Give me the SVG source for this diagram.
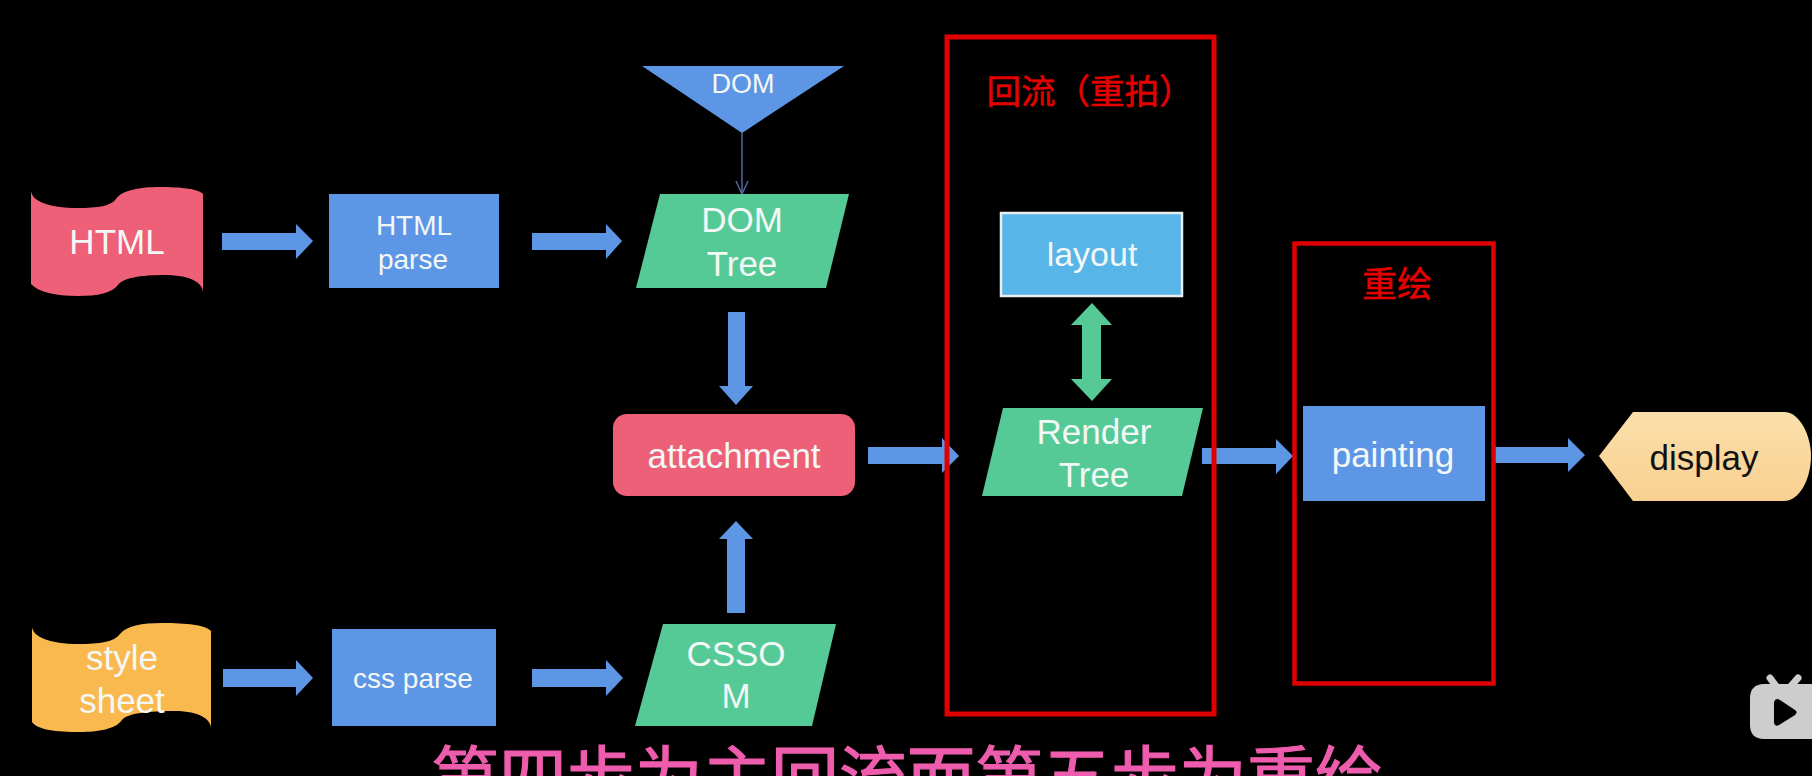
<svg xmlns="http://www.w3.org/2000/svg" width="1812" height="776" viewBox="0 0 1812 776">
<style>
text{font-family:"Liberation Sans",Arial,sans-serif;text-anchor:middle;fill:#f3f8f6;font-size:35px}
.cjk{font-family:"Noto Sans CJK SC",sans-serif}
.blue{fill:#5e96e6}
.green{fill:#56ca96}
.pink{fill:#ee6078}
.arrow{fill:#5e96e6}
.box{fill:none;stroke:#e00000}
.sm{font-size:28px}
</style>
<defs>
<linearGradient id="disp" x1="0" y1="0" x2="0" y2="1"><stop offset="0" stop-color="#fadfab"/><stop offset="1" stop-color="#f9d090"/></linearGradient>
<marker id="open" markerWidth="18" markerHeight="14" refX="14" refY="7" orient="auto" markerUnits="userSpaceOnUse"><path d="M1 1 L14 7 L1 13" fill="none" stroke="#50689c" stroke-width="1.5"/></marker>
</defs>
<rect width="1812" height="776" fill="#000"/>

<g id="connectors">
<polygon class="arrow" points="222,233 296,233 296,224 313,241 296,259 296,250 222,250"/>
<polygon class="arrow" points="532,233 606,233 606,224 622,241 606,259 606,250 532,250"/>
<polygon class="arrow" points="223,669 296,669 296,660 313,678 296,696 296,687 223,687"/>
<polygon class="arrow" points="532,669 606,669 606,660 623,678 606,696 606,687 532,687"/>
<line x1="742" y1="133" x2="742" y2="194" stroke="#50689c" stroke-width="1.5" marker-end="url(#open)"/>
<polygon class="arrow" points="728,312 745,312 745,386 753,386 736,405 719,386 728,386"/>
<polygon class="arrow" points="727,613 745,613 745,539 753,539 736,521 719,539 727,539"/>
<polygon class="arrow" points="868,447 942,447 942,438 959,456 942,473 942,464 868,464"/>
<polygon class="green" points="1092,303 1112,325 1101,325 1101,379 1112,379 1092,401 1071,379 1082,379 1082,325 1071,325"/>
<polygon class="arrow" points="1202,448 1276,448 1276,439 1293,456 1276,474 1276,464 1202,464"/>
<polygon class="arrow" points="1495,447 1568,447 1568,438 1585,455 1568,472 1568,463 1495,463"/>
</g>

<g id="node-html">
<path class="pink" d="M31 191C32 201 48 208 78 208C98 208 111 206 116 199C122 190 140 187 160 187C182 187 198 189 203 194L203 292C203 284 192 275 165 275C140 275 123 278 118 285C112 293 98 296 78 296C55 296 38 292 31 284Z"/>
<text x="117" y="254">HTML</text>
</g>
<g id="node-html-parse">
<rect class="blue" x="329" y="194" width="170" height="94"/>
<text class="sm" x="414" y="235">HTML</text>
<text class="sm" x="413" y="269">parse</text>
</g>
<g id="node-dom">
<polygon class="blue" points="642,66 844,66 742,133"/>
<text x="743" y="93" style="font-size:27px">DOM</text>
</g>
<g id="node-dom-tree">
<polygon class="green" points="660,194 849,194 826,288 636,288"/>
<text x="742" y="232">DOM</text>
<text x="742" y="276">Tree</text>
</g>
<g id="node-attachment">
<rect class="pink" x="613" y="414" width="242" height="82" rx="14"/>
<text x="734" y="468">attachment</text>
</g>
<g id="node-style-sheet">
<path d="M32 627C33 637 50 644 78 644C100 644 114 642 120 634C126 626 142 623 162 623C186 623 206 625 211 631L211 728C211 720 200 711 175 711C148 711 128 713 122 720C116 729 98 732 80 732C56 732 38 730 32 722Z" fill="#f9b94f"/>
<text x="122" y="670">style</text>
<text x="122" y="713">sheet</text>
</g>
<g id="node-css-parse">
<rect class="blue" x="332" y="629" width="164" height="97"/>
<text class="sm" x="413" y="688">css parse</text>
</g>
<g id="node-cssom">
<polygon class="green" points="663,624 836,624 812,726 635,726"/>
<text x="736" y="666">CSSO</text>
<text x="736" y="708">M</text>
</g>
<g id="node-layout">
<rect x="1001" y="213" width="181" height="83" fill="#57b5e8" stroke="#e8eef0" stroke-width="2.5"/>
<text x="1092" y="266" style="font-size:34px">layout</text>
</g>
<g id="node-render-tree">
<polygon class="green" points="1003,408 1203,408 1182,496 982,496"/>
<text x="1094" y="444">Render</text>
<text x="1094" y="487">Tree</text>
</g>
<g id="node-painting">
<rect class="blue" x="1303" y="406" width="182" height="95"/>
<text x="1393" y="467">painting</text>
</g>
<g id="node-display">
<path d="M1599 456L1633 412L1784 412C1800 412 1811 436 1811 456C1811 478 1800 501 1784 501L1633 501Z" fill="url(#disp)"/>
<text x="1704" y="470" style="fill:#111">display</text>
</g>

<g id="group-reflow">
<rect class="box" x="947" y="37" width="267" height="677" stroke-width="5"/>
<text class="cjk" x="1090" y="104" style="fill:#e60000;font-size:34.500px;stroke:#e60000;stroke-width:.5">回流（重拍）</text>
</g>
<g id="group-repaint">
<rect class="box" x="1294.500" y="243.500" width="199" height="440" stroke-width="4.500"/>
<text class="cjk" x="1397" y="297" style="fill:#e60000;font-size:35px;stroke:#e60000;stroke-width:.5">重绘</text>
</g>

<g id="caption">
<text class="cjk" x="907" y="803" style="fill:#ee5cad;font-size:68px;stroke:#ee5cad;stroke-width:1.200">第四步为主回流而第五步为重绘</text>
</g>

<g id="watermark">
<path d="M1770 678L1776 686M1798 678L1791 686" stroke="#cdcdcd" stroke-width="7" stroke-linecap="round" fill="none"/>
<path d="M1764 684L1812 684L1812 739L1764 739C1755 739 1750 734 1750 725L1750 698C1750 689 1755 684 1764 684Z" fill="#cdcdcd"/>
<path d="M1777 699Q1775 699 1774 702L1774 723Q1775 727 1779 725L1795 715Q1798 712 1795 710L1780 700Q1778 699 1777 699Z" fill="#000"/>
</g>
</svg>
